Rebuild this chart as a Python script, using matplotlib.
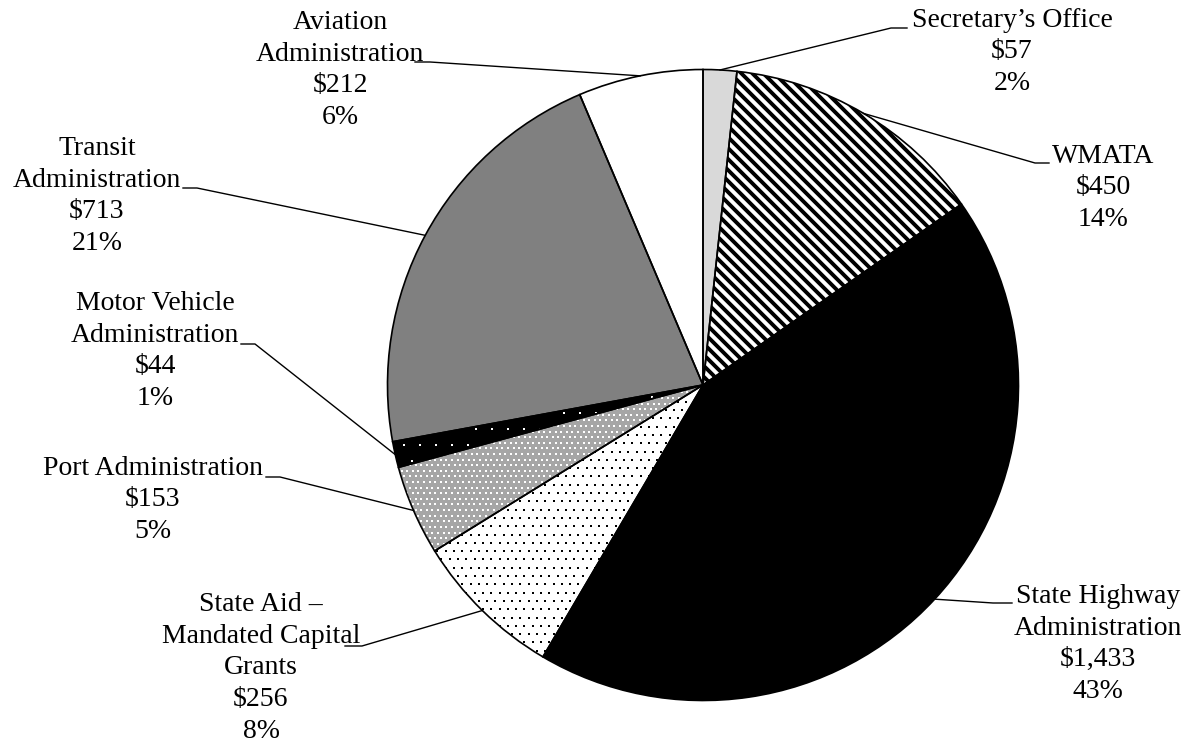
import matplotlib
matplotlib.use("Agg")
import matplotlib.pyplot as plt
import numpy as np
from matplotlib.collections import LineCollection

# MDOT budget by modal administration ($ millions)
names = ["Secretary’s Office", "WMATA", "State Highway\nAdministration",
         "State Aid –\nMandated Capital\nGrants", "Port Administration",
         "Motor Vehicle\nAdministration", "Transit\nAdministration",
         "Aviation\nAdministration"]
values = [57, 450, 1433, 256, 153, 44, 713, 212]

face_colors = ["#d9d9d9", "white", "black", "white", "#a6a6a6", "black", "#808080", "white"]
# pattern: (kind, colour, spacing in px)
patterns = [None, ("stripe", "black", 11.0), None, ("dot", "black", 8.3),
            ("dot", "white", 5.6), ("dot", "white", 16.0), None, None]

# label block centres in pixels (x, y from top)
label_pos = [(1012, 52), (1103, 188), (1098, 644), (261, 668),
             (153, 500), (155, 351), (97, 196), (340, 70)]
# leader ends near the labels: (end x, y from top, elbow x)
leader_end = [(907, 28, 891), (1049, 163, 1035), (1012, 603, 993), (345, 646, 362),
              (266, 477, 280), (241, 344, 255), (183, 188, 197), (415, 62, 430)]

W, H = 1189, 750
cx, cy, r = 703, H - 385, 315.5

plt.rcParams['font.family'] = ['Liberation Serif', 'DejaVu Serif']

fig = plt.figure(figsize=(W / 100, H / 100), dpi=100)
ax = fig.add_axes([0, 0, 1, 1])

wedges, _ = ax.pie(values, startangle=90, counterclock=False, center=(cx, cy), radius=r,
                   colors=face_colors, wedgeprops=dict(linewidth=0))

for w, pat in zip(wedges, patterns):
    if pat is None:
        continue
    kind, col, sp = pat
    if kind == "stripe":
        cs = np.arange(cx + cy - 2 * r - 20, cx + cy + 2 * r + 20, sp)
        segs = [[(cx - r - 10, c - (cx - r - 10)), (cx + r + 10, c - (cx + r + 10))] for c in cs]
        lc = LineCollection(segs, colors=col, linewidths=2.8, zorder=2)
        ax.add_collection(lc)
        lc.set_clip_path(w)
    else:
        ys = np.arange(cy - r, cy + r, sp)
        xs, yy = [], []
        for i, y in enumerate(ys):
            off = sp / 2 if i % 2 else 0
            row = np.arange(cx - r + off, cx + r, sp)
            xs.extend(row)
            yy.extend([y] * len(row))
        sc = ax.scatter(xs, yy, s=2.2, marker="s", color=col, linewidths=0, zorder=2)
        sc.set_clip_path(w)

# outlines on top
outl, _ = ax.pie(values, startangle=90, counterclock=False, center=(cx, cy), radius=r,
                 wedgeprops=dict(facecolor="none", edgecolor="black", linewidth=1.2))
for w in outl:
    w.set_zorder(3)

total = sum(values)
for w, name, v, (lx, ly), (ex, ey, bx) in zip(wedges, names, values, label_pos, leader_end):
    mid = np.deg2rad((w.theta1 + w.theta2) / 2)
    px, py = cx + r * np.cos(mid), cy + r * np.sin(mid)
    ax.plot([px, bx, ex], [py, H - ey, H - ey], color="black", lw=1.0, zorder=4)
    txt = f"{name}\n${v:,}\n{round(v / total * 100)}%"
    ax.text(lx, H - ly, txt, ha="center", va="center", multialignment="center",
            fontsize=20, linespacing=1.35, zorder=5)

ax.set_xlim(0, W)
ax.set_ylim(0, H)
ax.set_aspect("auto")
ax.axis("off")

fig.savefig("out.png", dpi=100)
